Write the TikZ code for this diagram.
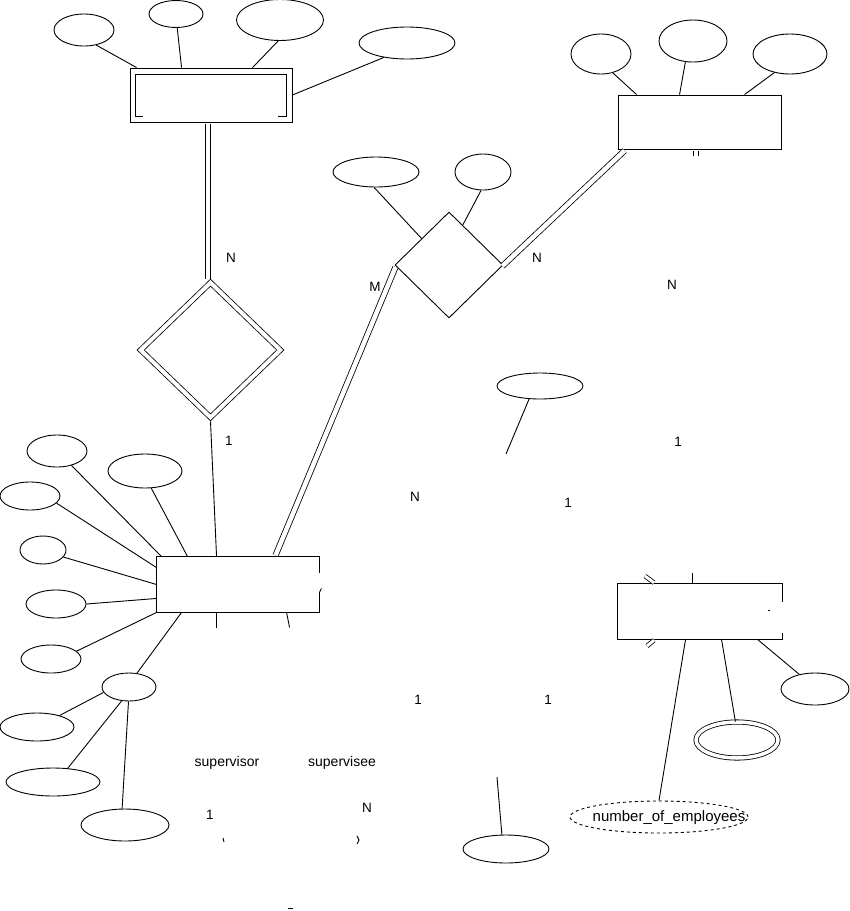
\documentclass[tikz,border=0pt]{standalone}
\usepackage{fontspec}
\setmainfont{Liberation Sans}
\usetikzlibrary{shapes.geometric}
\begin{document}
\begin{tikzpicture}[x=1pt,y=-1pt,line width=0.9pt,
  ent/.style={draw,rectangle,inner sep=0pt},
  attr/.style={draw,ellipse,inner sep=0pt},
  rel/.style={draw,diamond,inner sep=0pt},
  dbl/.style={double,double distance=4.5pt,line width=0.8pt},
  lbl/.style={inner sep=0pt,font=\fontsize{13.5}{15}\selectfont},
  txt/.style={inner sep=0pt,font=\fontsize{14}{16}\selectfont}]
\path[fill=white,use as bounding box] (0,0) rectangle (850,911);

% ---------- DEPENDENT (weak entity) ----------
\node[ent,minimum width=162pt,minimum height=54pt] (dep) at (211,95) {};
\draw (143,116) -- (135,116) -- (135,74) -- (286,74) -- (286,116) -- (278,116);
\node[attr,minimum width=60pt,minimum height=32pt] (d1) at (84,30) {};
\node[attr,minimum width=54pt,minimum height=27pt] (d2) at (176,14) {};
\node[attr,minimum width=87pt,minimum height=41pt] (d3) at (280,20) {};
\node[attr,minimum width=96pt,minimum height=32pt] (d4) at (407,43) {};
\draw (d1.-51) -- ([xshift=7pt]dep.north west);
\draw (d2.-85) -- ([xshift=52pt]dep.north west);
\draw (d3.-95) -- ([xshift=123pt]dep.north west);
\draw (d4.212) -- (dep.east);

% ---------- weak relationship ----------
\node[rel,double,double distance=4pt,line width=0.8pt,minimum width=140pt,minimum height=135pt] (wr) at (210.5,350) {};
\draw[dbl] ([xshift=-3pt,yshift=-1.2pt]dep.south) -- ([xshift=-3pt,yshift=3pt]dep.south |- wr.north);
\node[lbl] (l1) at (231,258) {N};

% ---------- EMPLOYEE ----------
\node[inner sep=0pt,minimum width=162pt,minimum height=55pt] (emp) at (238,584.5) {};
\draw ([yshift=-16pt]emp.north east) -- (emp.north east) -- (emp.north west) -- (emp.south west) -- (emp.south east) -- ([yshift=20pt]emp.south east);
\draw ([yshift=-36pt]emp.north east) -- ++(2,-4);
\draw ([yshift=-3.5pt]wr.south) -- ([xshift=60pt]emp.north west);
\node[lbl] (l2) at (229,441) {1};

\node[attr,minimum width=60pt,minimum height=32pt] (e1) at (57,451) {};
\node[attr,minimum width=74pt,minimum height=34pt] (e2) at (145,471) {};
\node[attr,minimum width=60pt,minimum height=28pt] (e3) at (30,496) {};
\node[attr,minimum width=46pt,minimum height=28pt] (e4) at (43,550) {};
\node[attr,minimum width=60pt,minimum height=28pt] (e5) at (56,604) {};
\node[attr,minimum width=60pt,minimum height=28pt] (e6) at (51,659) {};
\node[attr,minimum width=54pt,minimum height=28pt] (comp) at (129,687) {};
\node[attr,minimum width=74pt,minimum height=28pt] (s1) at (37,727) {};
\node[attr,minimum width=94pt,minimum height=28pt] (s2) at (53,782) {};
\node[attr,minimum width=88pt,minimum height=32pt] (s3) at (125,825) {};
\draw (e1.-45) -- ([xshift=5pt]emp.north west);
\draw (e2.-70) -- ([xshift=31pt]emp.north west);
\draw (e3.-15) -- ([yshift=-11pt]emp.north west);
\draw (e4.-19) -- (emp.west);
\draw (e5.east) -- ([yshift=14pt]emp.south west);
\draw (e6.17) -- (emp.south west);
\draw (comp.60) -- ([xshift=25pt]emp.south west);
\draw (comp.192) -- (s1.27);
\draw (comp.242) -- (s2.43);
\draw (comp.-92) -- (s3.100);
\draw ([xshift=60pt]emp.south west) -- ++(0,16);
\draw ([xshift=130pt]emp.south west) -- ++(3,15);

% ---------- WORKS_ON ----------
\node[rel,minimum width=108pt,minimum height=106pt] (wo) at (449,265) {};
\node[attr,minimum width=86pt,minimum height=30pt] (w1) at (376,172) {};
\node[attr,minimum width=56pt,minimum height=36pt] (w2) at (483,172) {};
\draw (w1.-97) -- (wo.136);
\draw (w2.-96) -- (wo.71);
\draw[dbl] ([xshift=119pt,yshift=1.2pt]emp.north west) -- ([xshift=1pt,yshift=-2pt]wo.west);
\node[lbl] (l3) at (375,287) {M};

% ---------- PROJECT ----------
\node[ent,minimum width=163pt,minimum height=54pt] (proj) at (699.5,122) {};
\node[attr,minimum width=60pt,minimum height=40pt] (p1) at (601,54) {};
\node[attr,minimum width=68pt,minimum height=42pt] (p2) at (693,41) {};
\node[attr,minimum width=74pt,minimum height=40pt] (p3) at (790,54) {};
\draw (p1.-58) -- ([xshift=19pt]proj.north west);
\draw (p2.-110) -- ([xshift=62pt]proj.north west);
\draw (p3.230) -- ([xshift=127pt]proj.north west);
\draw[dbl] ([xshift=-1pt,yshift=-1pt]wo.east) -- ([xshift=7pt,yshift=-1.2pt]proj.south west);
\draw[dbl] ([xshift=78.5pt,yshift=-1.2pt]proj.south west) -- ++(0,5);
\node[lbl] (l4) at (537,258) {N};
\node[lbl] (l5) at (672,285) {N};

% ---------- middle ----------
\node[attr,minimum width=86pt,minimum height=26pt] (a1) at (540,386) {};
\coordinate (a1end) at (506,454);
\draw (a1.230) -- (a1end);
\node[lbl] (l6) at (678,442) {1};
\node[lbl] (l7) at (415,497) {N};
\node[lbl] (l8) at (568,503) {1};

% ---------- DEPARTMENT ----------
\node[inner sep=0pt,minimum width=164pt,minimum height=55pt] (dept) at (700,611.5) {};
\draw ([yshift=-18pt]dept.north east) -- (dept.north east) -- (dept.north west) -- (dept.south west) -- (dept.south east) -- ([yshift=6pt]dept.south east);
\fill (768,609.5) rectangle (770,611);
\draw ([xshift=75pt]dept.north west) -- ++(0,-11);
\draw[dbl,double distance=3pt] (654,582.8) -- (645,576);
\draw[dbl,double distance=3pt] (654,640.2) -- (647,646);
\node[attr,dashed,minimum width=178pt,minimum height=32pt] (ne) at (659,817) {};
\node[inner sep=0pt,font=\fontsize{15}{17}\selectfont] (netxt) at (669,818) {number\_of\_employees};
\node[attr,double,double distance=3.5pt,line width=0.8pt,minimum width=82pt,minimum height=36pt] (ml) at (737,740) {};
\node[attr,minimum width=68pt,minimum height=32pt] (e7) at (815,689) {};
\draw ([xshift=68pt]dept.south west) -- (ne.north);
\draw ([xshift=104pt]dept.south west) -- (ml.95);
\draw ([xshift=140pt]dept.south west) -- (e7.137);

% ---------- bottom ----------
\node[lbl] (l9) at (418,700) {1};
\node[lbl] (l10) at (548,700) {1};
\node[txt] (l11) at (227,763) {supervisor};
\node[txt] (l12) at (342,763) {supervisee};
\node[lbl] (l13) at (210,815) {1};
\node[lbl] (l14) at (367,808) {N};
\draw (223,838) -- (224,842);
\draw (357,836) -- (359,840) -- (357,844);
\draw (288,908) -- (293,908);
\node[attr,minimum width=86pt,minimum height=28pt] (b1) at (506,849) {};
\coordinate (b1end) at (497,777);
\draw (b1end) -- (b1.106);
\end{tikzpicture}
\end{document}
